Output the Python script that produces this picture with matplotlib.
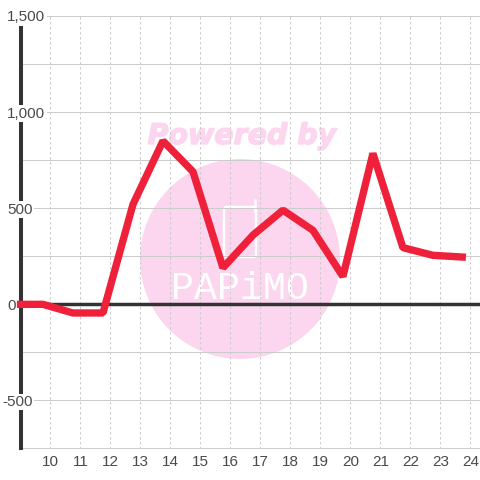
import matplotlib
matplotlib.use("Agg")
import matplotlib.pyplot as plt
import matplotlib.patheffects as pe
from matplotlib.lines import Line2D
from matplotlib.patches import Circle, FancyBboxPatch

plt.rcParams['font.family'] = ['Liberation Sans', 'DejaVu Sans']

# readings are taken between the hour ticks
hours = [8.88, 9.75, 10.75, 11.75, 12.75, 13.75, 14.75, 15.75, 16.75, 17.75, 18.75, 19.75, 20.75, 21.75, 22.75, 23.85]
values = [0, 0, -45, -45, 520, 850, 690, 190, 360, 490, 385, 145, 785, 295, 255, 245]
x_ticks = list(range(10, 25))
y_major = [-500, 0, 500, 1000, 1500]
y_labels = ['-500', '0', '500', '1,000', '1,500']
y_minor = [-750, -250, 250, 750, 1250]

W = 480.0
fig = plt.figure(figsize=(4.8, 4.8), dpi=100, facecolor='white')
ax = fig.add_axes([20.5 / W, 1 - 448.5 / W, (W - 20.5) / W, (448.5 - 16) / W])
ax.patch.set_alpha(0)
ax.set_xlim(9, 24.32)
ax.set_ylim(-750, 1500)

# watermark behind the chart
pink = '#fcd6ee'
fig.add_artist(Circle((240 / W, 1 - 259 / W), 100 / W, transform=fig.transFigure, fc=pink, ec='none', zorder=-5))
fig.text(242 / W, 1 - 136 / W, 'Powered by', color=pink, family='DejaVu Sans', fontsize=20.5,
         fontweight='bold', fontstyle='oblique', ha='center', va='center', zorder=-4,
         path_effects=[pe.withStroke(linewidth=1.0, foreground=pink)])
fig.add_artist(FancyBboxPatch((224 / W, 1 - 257 / W), 32 / W, 50 / W, boxstyle='round,pad=0,rounding_size=0.006',
                              transform=fig.transFigure, fc='none', ec='white', lw=1.8, zorder=-4))
fig.add_artist(Line2D([255 / W, 255 / W], [1 - 212 / W, 1 - 200 / W], transform=fig.transFigure,
                      color='white', lw=1.8, solid_capstyle='round', zorder=-4))
fig.text(240 / W, 1 - 289 / W, 'PAPiMO', color='white', family='Liberation Mono', fontsize=27.5,
         ha='center', va='center', zorder=-4)

# grid
for y in y_major + y_minor:
    ax.axhline(y, color='#cccccc', lw=0.75, zorder=1)
for x in x_ticks:
    ax.axvline(x, color='#cccccc', lw=0.75, ls=(0, (2.4, 2.4)), zorder=1)

ax.axhline(0, color='#333333', lw=2.5, zorder=3)

for side in ['top', 'right', 'bottom']:
    ax.spines[side].set_visible(False)
ax.spines['left'].set_linewidth(2.9)
ax.spines['left'].set_color('#333333')
ax.spines['left'].set_zorder(3)

ax.set_yticks([])
ax.set_xticks(x_ticks)
ax.set_xticklabels([str(x) for x in x_ticks], fontsize=11, color='#4a4a4a')
ax.tick_params(axis='x', length=0, pad=5)

# y labels sit on top of the axis line with a white box
trans = ax.get_yaxis_transform()
for y, lab in zip(y_major, y_labels):
    left = 2 if lab.startswith('-') else 7
    ax.text((left - 20.5) / (W - 20.5), y, lab, transform=trans, fontsize=11, color='#4a4a4a',
            ha='left', va='center_baseline', zorder=4, clip_on=False,
            bbox=dict(fc='white', ec='none', pad=1.0))

ax.plot(hours, values, color='#ef2039', lw=5.3, solid_joinstyle='bevel', solid_capstyle='butt',
        zorder=5, clip_on=False)

fig.savefig('out.png', dpi=100)
